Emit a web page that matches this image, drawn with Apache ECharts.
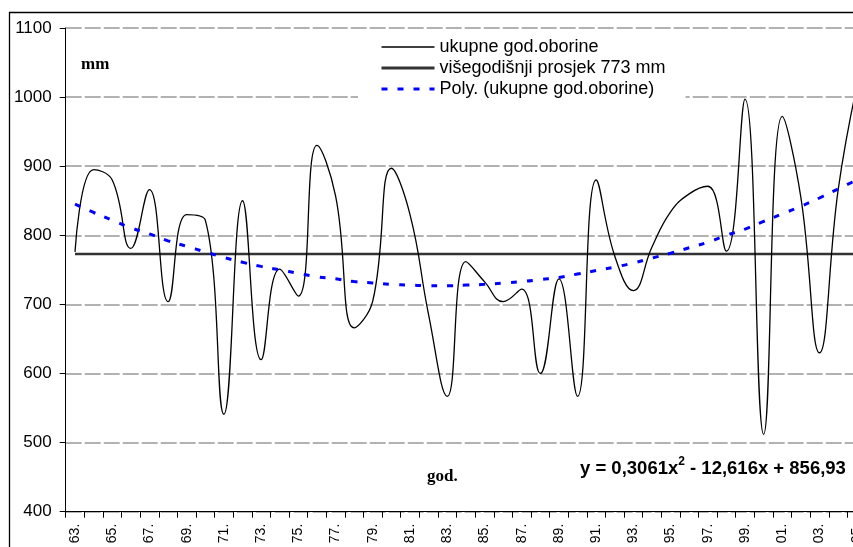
<!DOCTYPE html>
<html>
<head>
<meta charset="utf-8">
<style>
  html, body { margin: 0; padding: 0; background: #fff; overflow: hidden; width: 853px; height: 547px; }
  #chart { width: 866px; height: 547px; }
</style>
<script src="https://cdn.jsdelivr.net/npm/echarts@6/dist/echarts.min.js"></script>
</head>
<body>
<div id="chart"></div>
<script>
// ---- data ----
const years = [1963,1964,1965,1966,1967,1968,1969,1970,1971,1972,1973,1974,1975,1976,1977,1978,1979,1980,1981,1982,1983,1984,1985,1986,1987,1988,1989,1990,1991,1992,1993,1994,1995,1996,1997,1998,1999,2000,2001,2002,2003,2004,2005];
const rainfall = [776,895,880,781,866,704,830,822,541,850,620,751,712,930,857,666,705,897,830,685,567,762,733,704,722,600,737,567,880,770,720,783,834,860,871,777,997,512,972,855,630,865,1015];
const meanValue = 773;
const polyTrend = [845,833,822,811,802,792,784,776,768,761,755,750,745,740,737,733,731,729,728,727,727,728,729,731,733,736,739,744,749,754,760,767,774,782,790,800,809,820,831,842,854,867,880];
const seriesNames = ['ukupne god.oborine', 'višegodišnji prosjek 773 mm', 'Poly. (ukupne god.oborine)'];
const yMin = 400, yMax = 1100, yStep = 100;
const equationText = '{a|y = 0,3061x}{s|2}{a| - 12,616x + 856,93}';
const unitLabel = 'mm';
const xTitle = 'god.';

const categories = years.map(String);
const meanLine = years.map(() => meanValue);

const chart = echarts.init(document.getElementById('chart'), null, { renderer: 'canvas' });
const sans = "'Liberation Sans', Arial, sans-serif";
const serif = "'Liberation Serif', 'Times New Roman', serif";

const styles = [
  { color: '#000', width: 1.3, type: 'solid' },
  { color: '#333', width: 2.8, type: 'solid' },
  { color: '#0000ff', width: 3, type: [6, 10] }
];

chart.setOption({
  animation: false,
  backgroundColor: '#fff',
  grid: { left: 65.7, top: 28, bottom: 35.3, right: 0, containLabel: false },
  xAxis: {
    type: 'category',
    data: categories,
    boundaryGap: true,
    axisLine: { show: true, lineStyle: { color: '#000', width: 1 } },
    axisTick: { show: true, interval: 0, length: 6, alignWithLabel: false, lineStyle: { color: '#000' } },
    axisLabel: {
      interval: 1, rotate: 90, margin: 12,
      fontFamily: sans, fontSize: 14, color: '#000',
      formatter: v => v.slice(2) + '.'
    },
    splitLine: { show: false }
  },
  yAxis: {
    type: 'value',
    min: yMin, max: yMax, interval: yStep,
    axisLine: { show: true, lineStyle: { color: '#000', width: 1 } },
    axisTick: { show: true, length: 6, lineStyle: { color: '#000' } },
    axisLabel: { margin: 14, fontFamily: sans, fontSize: 17, color: '#000', formatter: v => String(v) },
    splitLine: { show: true, lineStyle: { color: '#999', width: 1.5, type: [16, 3] } }
  },
  legend: {
    orient: 'vertical',
    left: 358, top: 30,
    padding: [8, 20, 3, 22],
    backgroundColor: '#fff',
    itemWidth: 53, itemHeight: 14, itemGap: 3,
    itemStyle: { opacity: 0 },
    textStyle: { fontFamily: sans, fontSize: 18, color: '#000', lineHeight: 18 },
    data: seriesNames.map((n, i) => ({
      name: n,
      itemStyle: { opacity: 0 },
      lineStyle: { color: styles[i].color, width: styles[i].width, type: styles[i].type }
    }))
  },
  series: [
    {
      name: seriesNames[0], type: 'line', data: rainfall,
      smooth: 0.45, symbol: 'none',
      lineStyle: styles[0],
      itemStyle: { color: styles[0].color }, z: 4
    },
    {
      name: seriesNames[1], type: 'line', data: meanLine,
      symbol: 'none',
      lineStyle: { color: '#333', width: 2.5 },
      itemStyle: { color: '#333' }, z: 3
    },
    {
      name: seriesNames[2], type: 'line', data: polyTrend,
      smooth: true, symbol: 'none',
      lineStyle: styles[2],
      itemStyle: { color: styles[2].color }, z: 5
    }
  ],
  graphic: [
    {
      type: 'rect', silent: true, z: 0,
      shape: { x: 9.5, y: 12.5, width: 1000, height: 1000 },
      style: { fill: 'none', stroke: '#000', lineWidth: 1.3 }
    },
    {
      type: 'text', left: 81, top: 56, z: 10,
      style: { text: unitLabel, font: 'bold 17px ' + serif, fill: '#000' }
    },
    {
      type: 'text', left: 427, top: 468, z: 10,
      style: { text: xTitle, font: 'bold 17px ' + serif, fill: '#000' }
    },
    {
      type: 'text', left: 580, top: 456, z: 10,
      style: {
        text: equationText,
        rich: {
          a: { fontFamily: sans, fontWeight: 'bold', fontSize: 18.5, color: '#0000ff', lineHeight: 22, verticalAlign: 'bottom' },
          s: { fontFamily: sans, fontWeight: 'bold', fontSize: 12, color: '#0000ff', lineHeight: 12, verticalAlign: 'top' }
        }
      }
    }
  ]
});
</script>
</body>
</html>
